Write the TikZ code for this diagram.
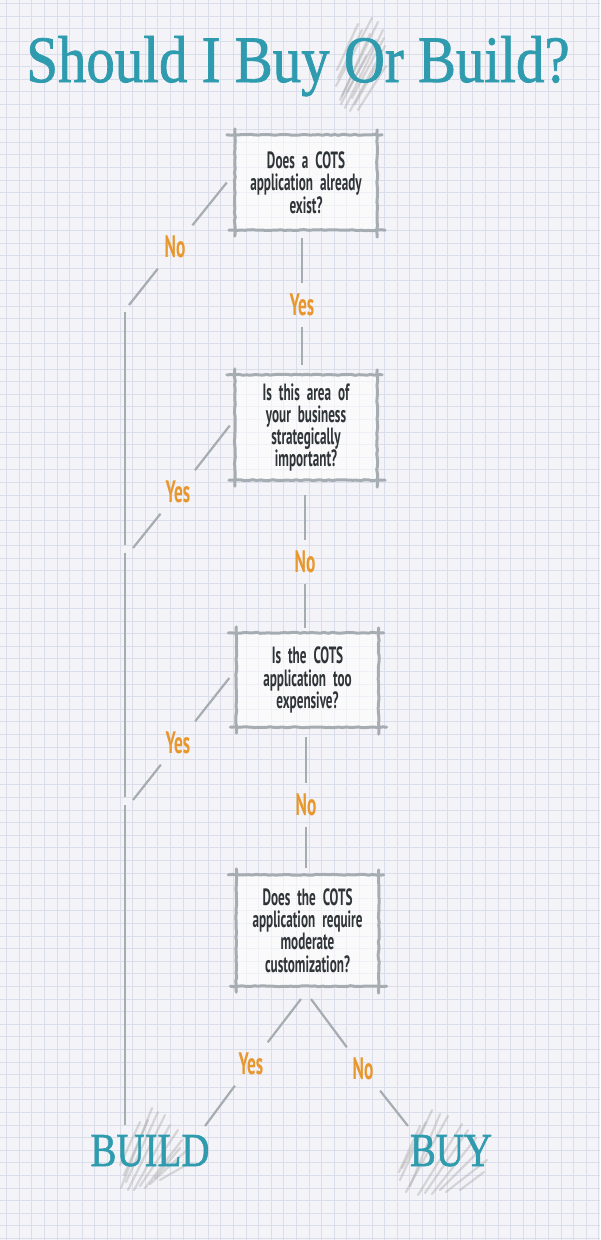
\documentclass[tikz,border=0pt]{standalone}
\usepackage{fontspec}
\usepackage{graphicx}
\setmainfont{Liberation Serif}
\newfontfamily\titlefont[FakeBold=1.2]{Liberation Serif}
\newfontfamily\condfont[FakeStretch=0.56]{PT Sans}
\usetikzlibrary{decorations.pathmorphing,calc}
\definecolor{paper}{HTML}{F4F4F8}
\definecolor{gridc}{HTML}{DADEEA}
\definecolor{titleteal}{HTML}{2E9BAE}
\definecolor{labor}{HTML}{E8972E}
\definecolor{bordg}{HTML}{A6ADB2}
\definecolor{txtg}{HTML}{2F3437}
\definecolor{scribc}{HTML}{A8A8A8}
\newcommand\boxtextfont{\condfont\bfseries\fontsize{23.5}{22.3}\selectfont\spaceskip=7pt plus 1pt minus 0pt\relax}
\newcommand\skbox[1]{%
  \draw[bord] ([xshift=-8pt]#1.north west) -- ([xshift=5pt]#1.north east);
  \draw[bord] ([xshift=-6pt]#1.south west) -- ([xshift=8pt]#1.south east);
  \draw[bord] ([yshift=6pt]#1.north west) -- ([yshift=-6pt]#1.south west);
  \draw[bord] ([yshift=5pt]#1.north east) -- ([yshift=-7pt]#1.south east);
}
\begin{document}
\begin{tikzpicture}[x=1pt,y=-1pt,
  conn/.style={draw=bordg, line width=2.2pt},
  bord/.style={draw=bordg, line width=3pt, line cap=round, decorate,
    decoration={random steps, segment length=4pt, amplitude=0.5pt}},
  qbox/.style={fill=white, fill opacity=0.55, text opacity=1, minimum width=142pt,
    align=center, text=txtg, inner sep=0pt, font=\boxtextfont},
  lab/.style={text=labor, font=\condfont\bfseries\fontsize{31}{31}\selectfont,
    inner xsep=4pt, inner ysep=11pt, text height=21pt, text depth=0pt, minimum width=36pt},
  scrib/.style={draw=scribc, line width=2.2pt, opacity=0.4, line cap=round},
  bigword/.style={text=titleteal, inner sep=0pt, anchor=base, font=\titlefont}
]
% paper and grid
\fill[paper] (0,0) rectangle (600,1240);
\useasboundingbox (0,0) rectangle (600,1240);
\foreach \i in {0,...,47} \draw[gridc, line width=0.6pt] (6.5+\i*12.6,0) -- ++(0,1240);
\foreach \j in {0,...,98} \draw[gridc, line width=0.6pt] (0,3.4+\j*12.6) -- ++(600,0);

% scribbles
\foreach \a/\b/\c/\d in {340/100/378/22, 345/108/383/30, 336/86/372/18, 350/111/385/46,
  342/96/370/34, 338/78/362/30, 355/104/380/60, 347/92/376/40, 352/98/384/38,
  341/104/366/56, 358/110/386/66, 337/70/358/24}
  \draw[scrib] (\a,\b) -- (\c,\d);
\foreach \a/\b/\c/\d in {121/1188/152/1108, 128/1190/165/1115, 140/1186/178/1130,
  150/1184/187/1150, 124/1175/148/1120, 160/1180/186/1165, 134/1190/170/1125,
  126/1182/158/1112, 145/1188/182/1140, 120/1165/140/1122, 155/1178/180/1148}
  \draw[scrib] (\a,\b) -- (\c,\d);
\foreach \a/\b/\c/\d in {400/1180/432/1110, 406/1192/448/1116, 418/1195/462/1124,
  432/1194/476/1138, 446/1192/487/1160, 402/1168/426/1122, 460/1190/484/1172,
  410/1186/440/1114, 425/1193/468/1130, 440/1190/480/1150, 399/1172/420/1126}
  \draw[scrib] (\a,\b) -- (\c,\d);

% title
\node[bigword] (title) at (298,82) {\resizebox{543pt}{46pt}{Should I Buy Or Build?}};

% questions
\node[qbox, minimum height=95pt] (q1) at (306,182.5) {Does a COTS\\application already\\exist?};
\node[qbox, minimum height=105pt] (q2) at (306,427.5) {Is this area of\\your business\\strategically\\important?};
\node[qbox, minimum height=94pt] (q3) at (307.5,680) {Is the COTS\\application too\\expensive?};
\node[qbox, minimum height=111pt] (q4) at (307.5,930.5) {Does the COTS\\application require\\moderate\\customization?};
\skbox{q1}\skbox{q2}\skbox{q3}\skbox{q4}

% outcomes
\node[bigword] (build) at (150,1166) {\resizebox{119pt}{31pt}{BUILD}};
\node[bigword] (buy) at (451,1166) {\resizebox{82pt}{31pt}{BUY}};

% labels
\node[lab] (no1) at (175,247) {No};
\node[lab] (yes1) at (302,305) {Yes};
\node[lab] (yes2) at (178,492) {Yes};
\node[lab] (no2) at (305,562) {No};
\node[lab] (yes3) at (178,743) {Yes};
\node[lab] (no3) at (306,805) {No};
\node[lab] (yes4) at (251,1064) {Yes};
\node[lab] (no4) at (363,1069) {No};

% junction coordinates
\coordinate (d1) at (129,305);
\coordinate (d2) at (133,548);
\coordinate (d3) at (133,800);
\coordinate (t1) at (125,312);
\coordinate (b1) at (125,545);
\coordinate (t2) at (125,553);
\coordinate (b2) at (125,797);
\coordinate (t3) at (125,805);
\coordinate (vend) at (125,1125);
\coordinate (sl) at (301,999);
\coordinate (sr) at (311,999);
\coordinate (el) at (205,1126);
\coordinate (er) at (408,1126);

% main spine
\draw[conn, shorten <=8pt] (yes1 |- q1.south) -- (yes1);
\draw[conn, shorten >=10pt] (yes1) -- (yes1 |- q2.north);
\draw[conn, shorten <=15pt] (no2 |- q2.south) -- (no2);
\draw[conn, shorten >=5pt] (no2) -- (no2 |- q3.north);
\draw[conn, shorten <=10pt] (no3 |- q3.south) -- (no3);
\draw[conn, shorten >=7pt] (no3) -- (no3 |- q4.north);

% left branches
\draw[conn] ([xshift=-8pt]q1.west) -- (no1);
\draw[conn] (no1) -- (d1);
\draw[conn] ([xshift=-5pt,yshift=2pt]q2.west) -- (yes2);
\draw[conn] (yes2) -- (d2);
\draw[conn] ([xshift=-7pt,yshift=2pt]q3.west) -- (yes3);
\draw[conn] (yes3) -- (d3);
\draw[conn] (t1) -- (b1);
\draw[conn] (t2) -- (b2);
\draw[conn] (t3) -- (vend);

% bottom branches
\draw[conn] (sl) -- (yes4);
\draw[conn] (yes4) -- (el);
\draw[conn] (sr) -- (no4);
\draw[conn] (no4) -- (er);
\end{tikzpicture}
\end{document}
